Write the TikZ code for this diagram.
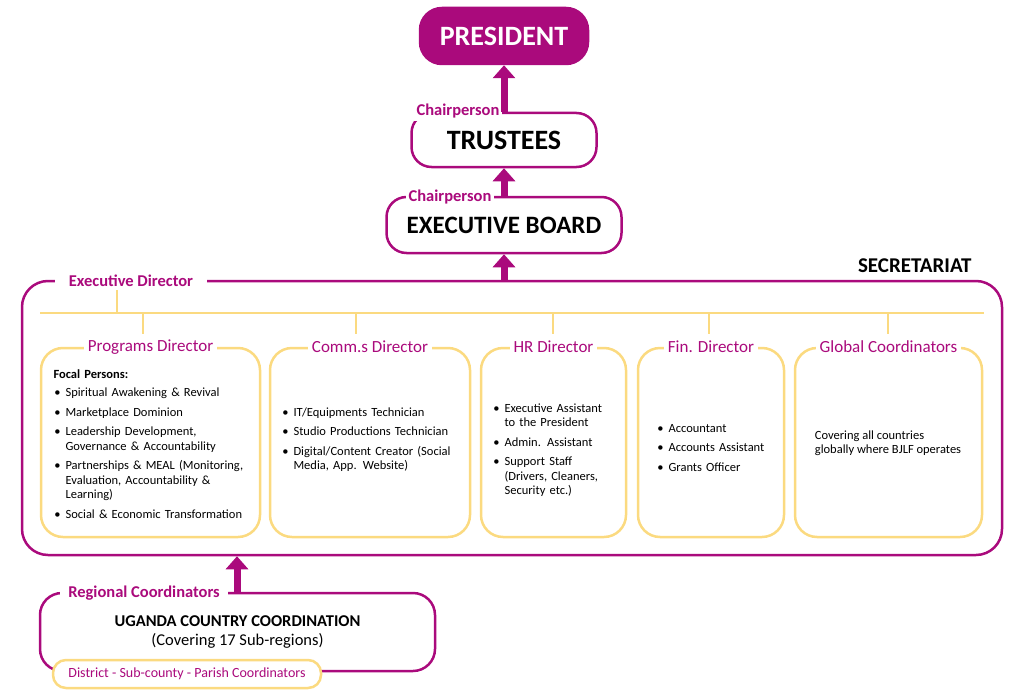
\documentclass[tikz,border=0pt]{standalone}
\usepackage{fontspec}
\setmainfont{Carlito}
\usepackage{enumitem}
\usetikzlibrary{arrows.meta,positioning}
\definecolor{plum}{HTML}{AA0A7C}
\definecolor{sand}{HTML}{FBDA80}
\setlist[itemize]{leftmargin=12pt,itemsep=5pt,topsep=0pt,parsep=0pt,label=\textbullet}

\begin{document}
\begin{tikzpicture}
      [x = 1pt, y = -1pt,
      up/.style = {line width = 7pt, draw = plum,
         -{Triangle[width = 22pt, length = 13pt]}},
      level/.style = {draw = plum, line width = 2.5pt, rounded corners = 20pt,
         font = \bfseries\fontsize{25}{28}\selectfont},
      tag/.style = {fill = white, text = plum, inner sep = 3pt,
         font = \bfseries\fontsize{16.5}{18}\selectfont},
      unit/.style = {draw = sand, line width = 2.5pt, rounded corners = 22pt},
      head/.style = {fill = white, text = plum, inner sep = 4pt,
         font = \fontsize{17}{19}\selectfont},
      body/.style = {font = \fontsize{12.5}{14.5}\selectfont\raggedright, align = left}]

      \useasboundingbox (0, 0) rectangle (1024, 698);

      % top of the chart
      \node[level, fill = plum, text = white, minimum width = 168pt, minimum height = 56pt,
         rounded corners = 22pt, font = \bfseries\fontsize{28}{30}\selectfont] (pres) at (504, 36) {PRESIDENT};
      \node[level, minimum width = 185pt, minimum height = 54pt, font = \bfseries\fontsize{28}{30}\selectfont] (trust) at (504, 140) {TRUSTEES};
      \node[tag] (trustchair) at (458, 111) {Chairperson};
      \node[level, minimum width = 235pt, minimum height = 56pt] (board) at (504, 225) {EXECUTIVE BOARD};
      \node[tag] (boardchair) at (450, 197) {Chairperson};

      % secretariat frame
      \node[draw = plum, line width = 2.5pt, rounded corners = 26pt,
         minimum width = 980pt, minimum height = 274pt] (sec) at (512, 418) {};
      \node[tag, inner xsep = 14pt] (exec) at (131, 281) {Executive Director};
      \node[font = \bfseries\fontsize{21}{23}\selectfont, anchor = south east] (sectitle) at (975, 276) {SECRETARIAT};

      \draw[up] (sec.north -| board) -- (board.south);
      \draw[up] (board.north) -- (trust.south);
      \draw[up] (trust.north) -- (pres.south);

      % yellow bar
      \coordinate (barl) at (40, 313);
      \coordinate (barr) at (984, 313);
      \draw[sand, line width = 2.5pt] (barl) -- (barr);
      \draw[sand, line width = 2.5pt] (exec.south -| 117, 0) -- (barl -| 117, 0);

      % directors
      \node[unit, minimum width = 219pt, minimum height = 189pt] (prog) at (150.5, 442.5) {};
      \node[unit, minimum width = 200pt, minimum height = 189pt] (comm) at (370, 442.5) {};
      \node[unit, minimum width = 145pt, minimum height = 189pt] (hr) at (553.5, 442.5) {};
      \node[unit, minimum width = 146pt, minimum height = 189pt] (fin) at (711, 442.5) {};
      \node[unit, minimum width = 187pt, minimum height = 189pt] (glob) at (888.5, 442.5) {};

      \foreach \b/\x/\t in {prog/143/Programs Director, comm/356/Comm.s Director,
            hr/553/HR Director, fin/709/Fin. Director, glob/888/Global Coordinators} {
         \draw[sand, line width = 2.5pt] (\x, 313) -- (\x, 334);
         \node[head] (\b title) at (\b.north) {\t};
      }

      \node[body, text width = 200pt, anchor = north west] (progtext) at (50, 366) {%
         \textbf{Focal Persons:}\\[4pt]
         \begin{itemize}
            \item Spiritual Awakening \& Revival
            \item Marketplace Dominion
            \item Leadership Development,\\Governance \& Accountability
            \item Partnerships \& MEAL (Monitoring,\\Evaluation, Accountability \&\\Learning)
            \item Social \& Economic Transformation
         \end{itemize}};
      \node[body, text width = 185pt, anchor = north west] (commtext) at (278, 398) {%
         \begin{itemize}
            \item IT/Equipments Technician
            \item Studio Productions Technician
            \item Digital/Content Creator (Social\\Media, App. Website)
         \end{itemize}};
      \node[body, text width = 135pt, anchor = north west] (hrtext) at (489, 394) {%
         \begin{itemize}
            \item Executive Assistant\\to the President
            \item Admin. Assistant
            \item Support Staff\\(Drivers, Cleaners,\\Security etc.)
         \end{itemize}};
      \node[body, text width = 130pt, anchor = north west] (fintext) at (653, 414) {%
         \begin{itemize}
            \item Accountant
            \item Accounts Assistant
            \item Grants Officer
         \end{itemize}};
      \node[body, align = left] (globtext) at (888, 443) {Covering all countries\\globally where BJLF operates};

      % country level
      \node[draw = plum, line width = 2.5pt, rounded corners = 22pt,
         minimum width = 395pt, minimum height = 78pt, align = center,
         font = \fontsize{16.5}{19}\selectfont] (uganda) at (237.5, 632)
         {{\bfseries UGANDA COUNTRY COORDINATION}\\(Covering 17 Sub-regions)};
      \node[tag, inner xsep = 8pt] (region) at (144, 593) {Regional Coordinators};
      \node[draw = sand, fill = white, line width = 2.5pt, rounded corners = 13pt,
         minimum width = 268pt, minimum height = 28pt, text = plum,
         font = \fontsize{14}{16}\selectfont] (dist) at (187, 674) {District - Sub-county - Parish Coordinators};
      \draw[up] (uganda.north -| 237, 0) -- (sec.south -| 237, 0);

   \end{tikzpicture}
\end{document}
